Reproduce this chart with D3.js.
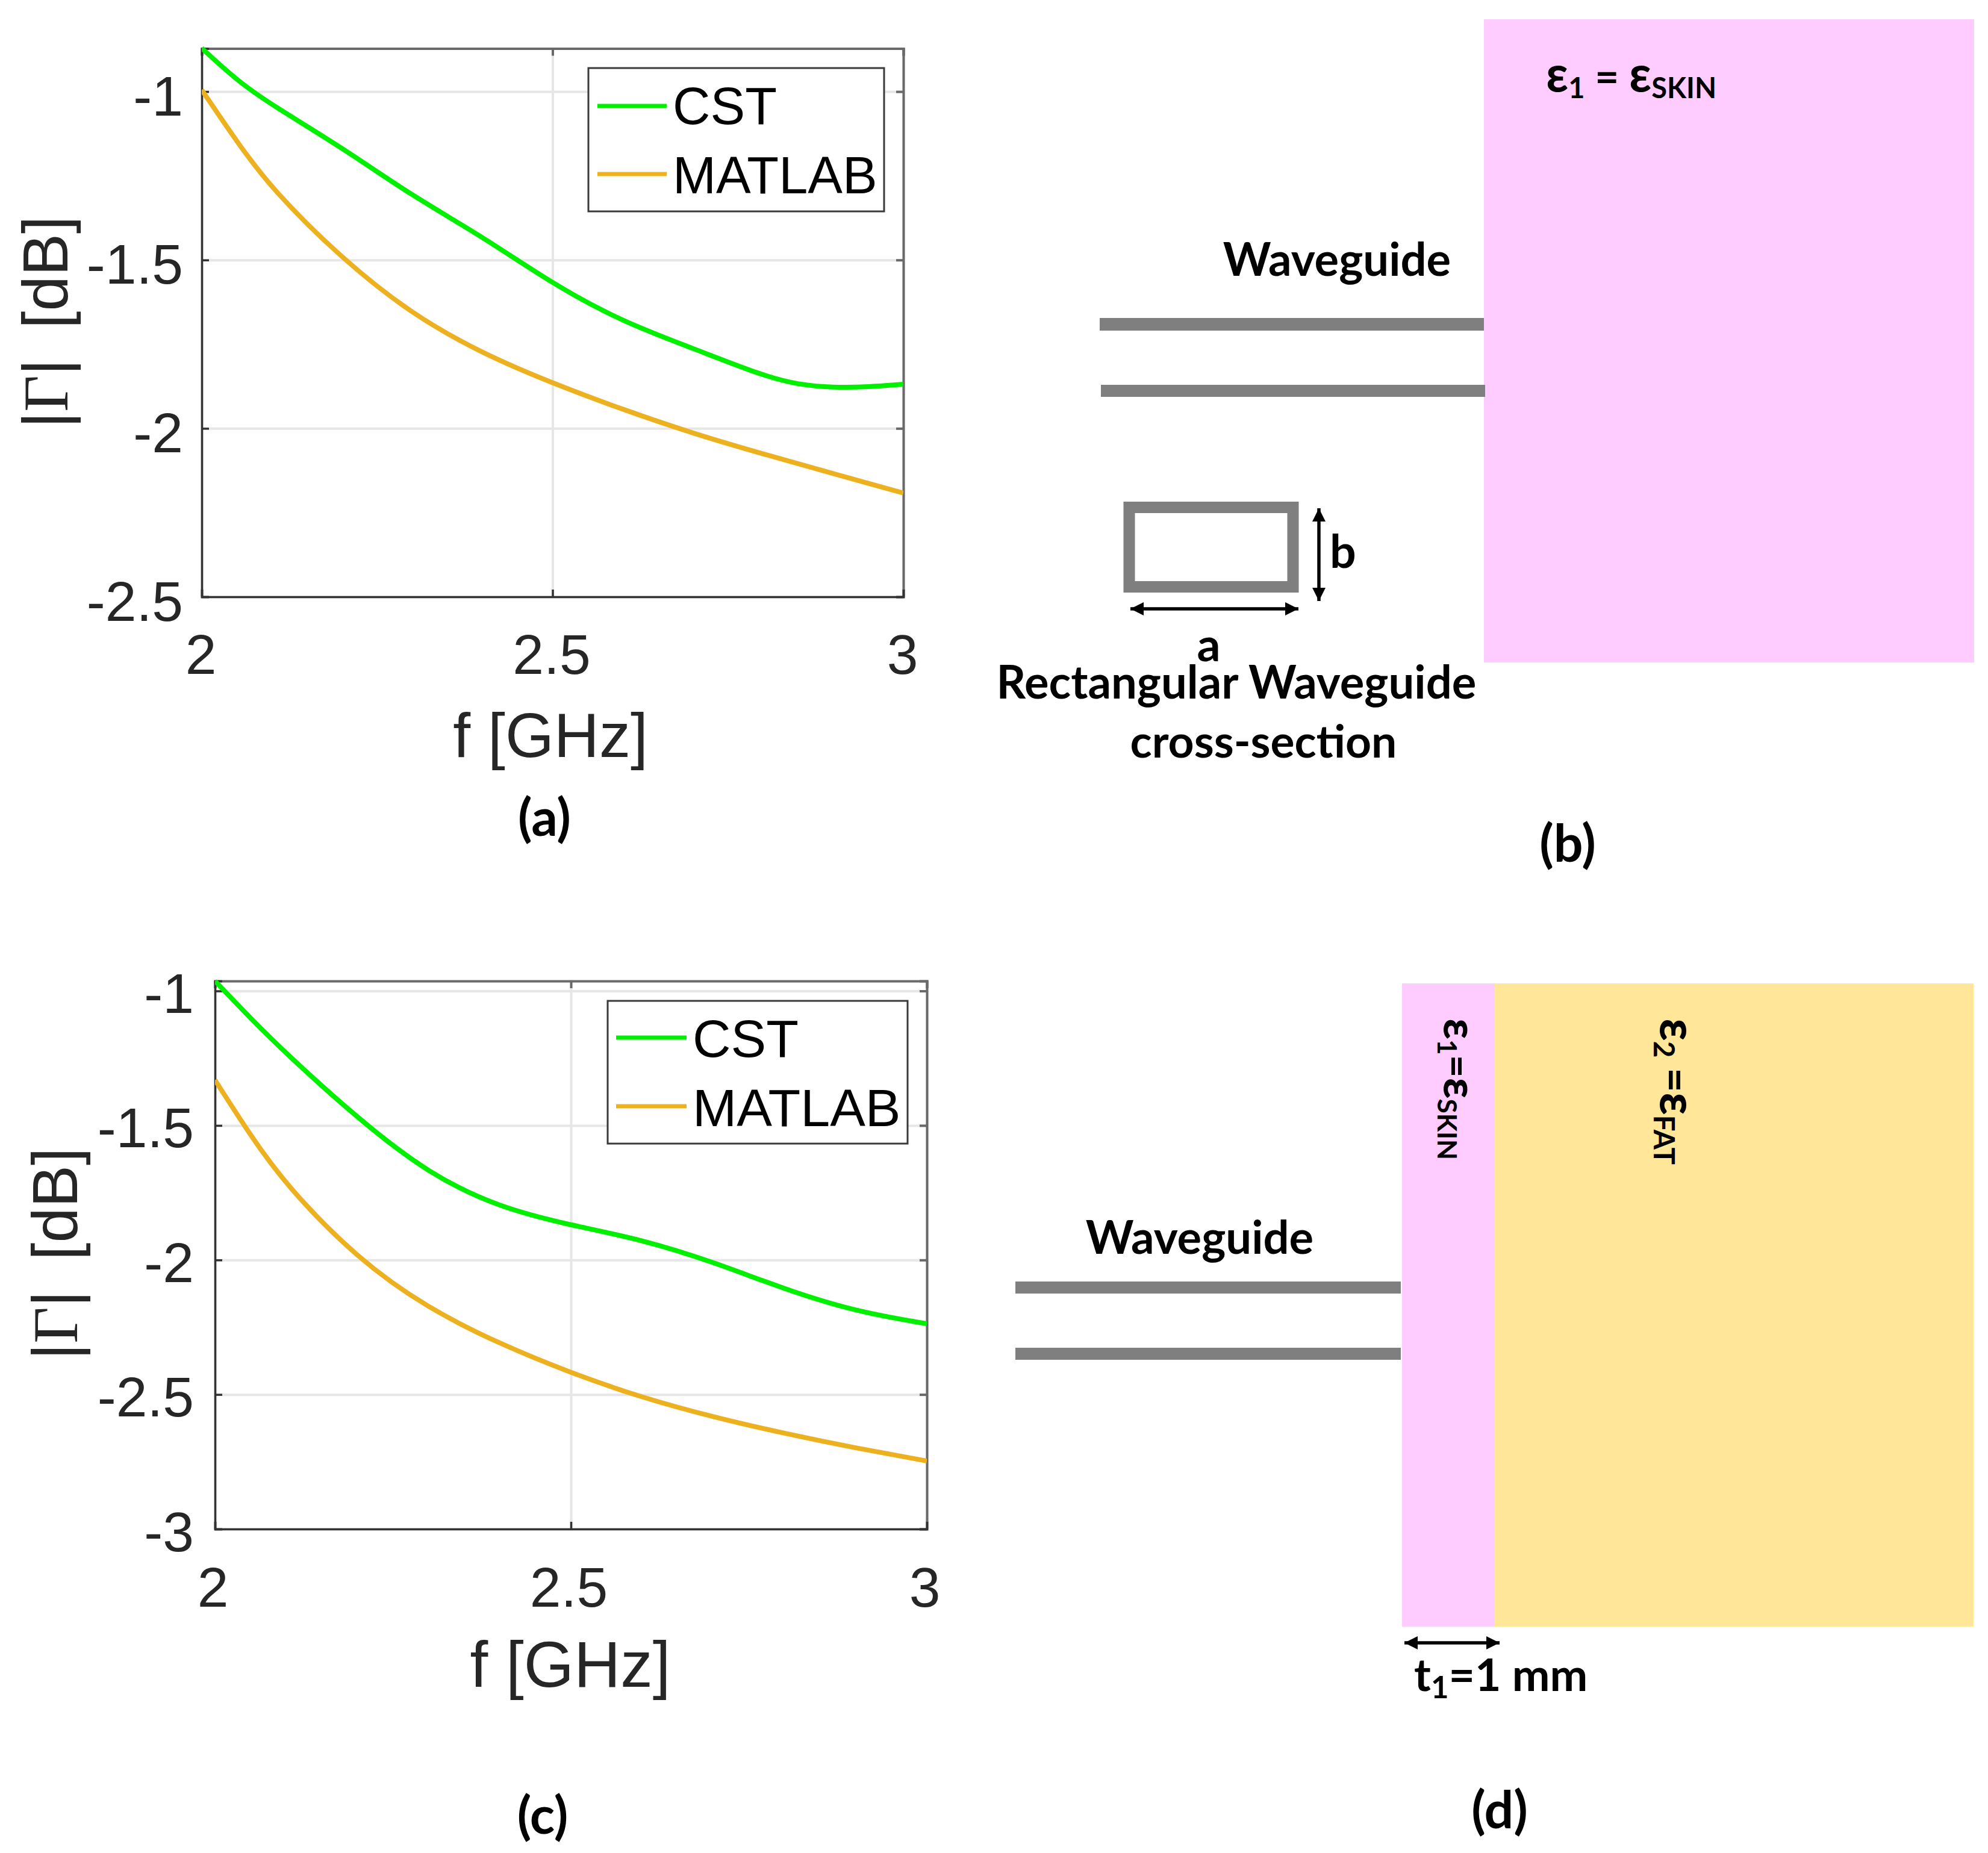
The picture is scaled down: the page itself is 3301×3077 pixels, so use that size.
<!DOCTYPE html>
<html><head><meta charset="utf-8">
<script src="https://cdn.jsdelivr.net/npm/d3@7/dist/d3.min.js"></script>
<style>html,body{margin:0;padding:0;background:#fff}svg{display:block}</style>
</head><body><div id="c"></div>
<script>
const freqA = [2,2.05,2.1,2.2,2.3,2.4,2.5,2.6,2.7,2.8,2.85,2.9,2.95,3];
const cstA = [-0.871,-0.967,-1.04,-1.166,-1.31,-1.43,-1.571,-1.684,-1.762,-1.844,-1.87,-1.879,-1.877,-1.869];
const freqA2 = [2,2.05,2.1,2.2,2.3,2.4,2.5,2.6,2.7,2.8,2.9,3];
const matlabA = [-0.995,-1.149,-1.29,-1.497,-1.662,-1.778,-1.866,-1.944,-2.015,-2.076,-2.134,-2.192];
const freqC = [2,2.05,2.1,2.2,2.3,2.4,2.5,2.6,2.7,2.8,2.9,3];
const cstC = [-0.963,-1.102,-1.233,-1.473,-1.68,-1.806,-1.871,-1.924,-2.007,-2.109,-2.192,-2.237];
const matlabC = [-1.331,-1.538,-1.723,-1.996,-2.181,-2.312,-2.42,-2.512,-2.584,-2.645,-2.699,-2.747];
const xTicks = [2,2.5,3];
const yTicksA = [-1,-1.5,-2,-2.5];
const yTicksC = [-1,-1.5,-2,-2.5,-3];
const seriesNames = ["CST","MATLAB"];
const GREEN="#00f000", ORANGE="#edb120", SANS="'Liberation Sans',Arial,sans-serif", BOLD="Lato,'Open Sans',sans-serif";

const svg=d3.select("#c").append("svg").attr("width",3301).attr("height",3077).attr("viewBox","0 0 3301 3077");
svg.append("rect").attr("width",3301).attr("height",3077).attr("fill","#fff");

function chart(o){
  const x=d3.scaleLinear().domain([2,3]).range([o.l,o.r]);
  const y=d3.scaleLinear().domain(o.yDom).range([o.b,o.t]);
  const g=svg.append("g");
  // grid
  g.append("g").attr("class","grid").attr("transform",`translate(0,${o.b})`)
    .call(d3.axisBottom(x).tickValues(xTicks).tickSize(-(o.b-o.t)).tickFormat(""))
    .call(s=>{s.select(".domain").remove()});
  g.append("g").attr("class","grid").attr("transform",`translate(${o.l},0)`)
    .call(d3.axisLeft(y).tickValues(o.yTicks).tickSize(-(o.r-o.l)).tickFormat(""))
    .call(s=>{s.select(".domain").remove()});
  g.selectAll(".grid line").attr("stroke","#e6e6e6").attr("stroke-width",4);
  // box top/right (lighter) first
  const top=g.append("g").attr("transform",`translate(0,${o.t})`)
    .call(d3.axisTop(x).tickValues(xTicks).tickSize(-12).tickFormat(""));
  const right=g.append("g").attr("transform",`translate(${o.r},0)`)
    .call(d3.axisRight(y).tickValues(o.yTicks).tickSize(-12).tickFormat(""));
  [top,right].forEach(a=>{a.selectAll(".domain,line").attr("stroke","#6a6a6a").attr("stroke-width",4)});
  // labelled axes
  const fmt=d=>String(d);
  const xa=g.append("g").attr("transform",`translate(0,${o.b})`)
    .call(d3.axisBottom(x).tickValues(xTicks).tickSize(-12).tickPadding(0).tickFormat(fmt));
  xa.selectAll("text").attr("y",o.xLabY-o.b).attr("dy",0).attr("dx",o.xLabDx).attr("font-size",o.tf).attr("font-family",SANS).attr("fill","#262626");
  const ya=g.append("g").attr("transform",`translate(${o.l},0)`)
    .call(d3.axisLeft(y).tickValues(o.yTicks).tickSize(-12).tickPadding(0).tickFormat(fmt));
  ya.selectAll("text").attr("x",o.yLabX-o.l).attr("dy",0).attr("y",o.yLabDy).attr("font-size",o.tf).attr("font-family",SANS).attr("fill","#262626");
  [xa,ya].forEach(a=>{a.selectAll(".domain,line").attr("stroke","#333").attr("stroke-width",3.5)});
  // series
  const line=d3.line().x(d=>x(d[0])).y(d=>y(d[1])).curve(d3.curveBasis);
  const clip="clip"+o.id;
  svg.append("clipPath").attr("id",clip).append("rect").attr("x",o.l).attr("y",o.t-4).attr("width",o.r-o.l).attr("height",o.b-o.t+8);
  const lg=g.append("g").attr("clip-path",`url(#${clip})`);
  lg.append("path").attr("d",line(d3.zip(o.fm,o.m))).attr("fill","none").attr("stroke",ORANGE).attr("stroke-width",8);
  lg.append("path").attr("d",line(d3.zip(o.fc,o.c))).attr("fill","none").attr("stroke",GREEN).attr("stroke-width",8);
  // axis titles
  g.append("text").attr("x",o.xtX).attr("y",o.xtY).attr("text-anchor","middle").attr("font-size",o.xtF).attr("font-family",SANS).attr("fill","#262626").text("f [GHz]");
  const yt=g.append("text").attr("transform",`translate(${o.ytX},${o.ytY}) rotate(-90)`).attr("text-anchor","middle").attr("font-size",o.ytF).attr("font-family",SANS).attr("fill","#262626");
  yt.append("tspan").text("|");
  yt.append("tspan").attr("font-family","'Liberation Serif',serif").text("Γ");
  yt.append("tspan").text("|");
  yt.append("tspan").attr("dx",o.ytF*0.2).text(" [dB]");
  // legend
  const L=o.leg;
  g.append("rect").attr("x",L.x0).attr("y",L.y0).attr("width",L.x1-L.x0).attr("height",L.y1-L.y0).attr("fill","#fff").attr("stroke","#3a3a3a").attr("stroke-width",3);
  seriesNames.forEach((n,i)=>{
    g.append("line").attr("x1",L.lx0).attr("x2",L.lx1).attr("y1",L.ly[i]).attr("y2",L.ly[i]).attr("stroke",i?ORANGE:GREEN).attr("stroke-width",7);
    g.append("text").attr("x",L.tx).attr("y",L.ty[i]).attr("font-size",L.f).attr("font-family",SANS).attr("fill","#000").text(n);
  });
}

chart({id:"a",l:335,r:1500,t:80.5,b:991,yDom:[-2.5,-0.872],yTicks:yTicksA,fc:freqA,c:cstA,fm:freqA2,m:matlabA,
  tf:93,xLabY:1119,xLabDx:-2,yLabX:304,yLabDy:39,xtX:914,xtY:1257,xtF:104,ytX:112,ytY:535,ytF:105,
  leg:{x0:977,x1:1468,y0:113,y1:351,lx0:992,lx1:1107,ly:[176,289],tx:1117,ty:[206,321],f:86.5}});
chart({id:"c",l:357,r:1539,t:1629,b:2539,yDom:[-3,-0.963],yTicks:yTicksC,fc:freqC,c:cstC,fm:freqC,m:matlabC,
  tf:93,xLabY:2668,xLabDx:-4,yLabX:322,yLabDy:36,xtX:947,xtY:2801,xtF:107,ytX:128,ytY:2082,ytF:105,
  leg:{x0:1009,x1:1507,y0:1662,y1:1899,lx0:1023,lx1:1140,ly:[1723,1837],tx:1150,ty:[1755,1870],f:88}});

function bold(x,y,s,size,anchor){
  return svg.append("text").attr("x",x).attr("y",y).attr("text-anchor",anchor||"middle").attr("font-size",size||76).attr("font-family",BOLD).attr("font-weight",700).attr("fill","#000").text(s);
}
function rect(x,y,w,h,f){svg.append("rect").attr("x",x).attr("y",y).attr("width",w).attr("height",h).attr("fill",f)}
function arrow(x1,y1,x2,y2){
  svg.append("line").attr("x1",x1).attr("y1",y1).attr("x2",x2).attr("y2",y2).attr("stroke","#000").attr("stroke-width",5.5);
  const a=Math.atan2(y2-y1,x2-x1),L=22,W=11;
  [[x1,y1,a+Math.PI],[x2,y2,a]].forEach(([px,py,t])=>{
    svg.append("path").attr("fill","#000").attr("d",d3.line()([[px,py],[px-L*Math.cos(t)+W*Math.sin(t),py-L*Math.sin(t)-W*Math.cos(t)],[px-L*Math.cos(t)-W*Math.sin(t),py-L*Math.sin(t)+W*Math.cos(t)]])+"Z");
  });
}
function sub(t,parts,size){ // parts: [text, isSub]
  let prev=false;
  parts.forEach(([s,isSub,big])=>{
    const ts=t.append("tspan").text(s).attr("font-size",isSub?size*0.68:(big?size*1.18:size));
    if(isSub!==prev){ts.attr("dy",isSub?size*0.16:-size*0.16)}
    prev=isSub;
  });
}
// panel labels
bold(904,1388,"(a)",86);
bold(2603,1431,"(b)",86);
bold(901,3045,"(c)",86);
bold(2490,3036,"(d)",86);
// panel b
rect(2464,32,814,1068,"#ffccff");
rect(1826,528,638,21,"#7f7f7f");
rect(1828,639,638,20,"#7f7f7f");
svg.append("rect").attr("x",1875).attr("y",842.5).attr("width",272).attr("height",132).attr("fill","none").attr("stroke","#7f7f7f").attr("stroke-width",19);
arrow(1877,1011,2156,1011);
arrow(2190,844,2190,998);
bold(2220,458,"Waveguide",76);
bold(2208,943,"b",77,"start");
bold(2007,1098,"a",77);
bold(2053,1160,"Rectangular Waveguide",76);
bold(2098,1258,"cross-section",75);
sub(bold(2567,152,"",69,"start"),[["ε",false,true],["1",true],[" = ",false],["ε",false,true],["SKIN",true]],69);
// panel d
rect(2328,1633,154,1068,"#ffccff");
rect(2482,1633,795,1068,"#ffe699");
rect(1686,2128,640,20,"#7f7f7f");
rect(1686,2238,640,20,"#7f7f7f");
bold(1992,2082,"Waveguide",76);
arrow(2332,2728,2490,2728);
sub(bold(2348,2808,"",75,"start"),[["t",false],["1",true],["=1 mm",false]],75);
function vert(x,y,parts,size){
  const t=bold(0,0,"",size,"start").attr("transform",`translate(${x},${y}) rotate(90)`);
  sub(t,parts,size);
}
vert(2397,1691,[["ε",false,true],["1",true],["=",false],["ε",false,true],["SKIN",true]],65);
vert(2757,1691,[["ε",false,true],["2",true],[" =",false],["ε",false,true],["FAT",true]],70);
</script></body></html>
